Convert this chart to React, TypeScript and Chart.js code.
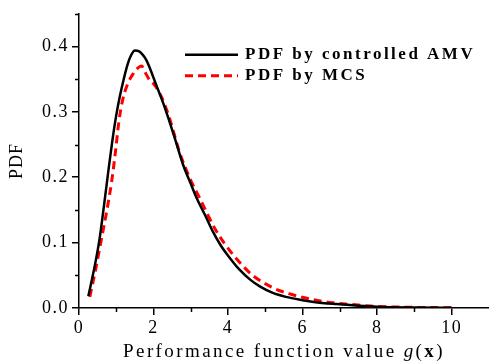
import React, { useEffect, useRef } from "react";
import { Chart, registerables } from "chart.js";

Chart.register(...registerables);

// PDF of the performance function obtained with the controlled AMV method
const amvX = [0.25, 0.4, 0.55, 0.7, 0.8, 0.9, 1.0, 1.1, 1.2, 1.3, 1.4, 1.5, 1.6, 1.7, 1.8, 1.9, 2.0, 2.1, 2.25, 2.4, 2.57, 2.8, 3.0, 3.15, 3.4, 3.6, 3.8, 4.0, 4.3, 4.6, 4.85, 5.2, 5.55, 6.0, 6.3, 6.9, 7.5, 8.0, 9.0, 10.0];
const amvY = [0.018, 0.058, 0.105, 0.17, 0.215, 0.258, 0.295, 0.325, 0.35, 0.372, 0.387, 0.394, 0.393, 0.388, 0.38, 0.367, 0.352, 0.337, 0.315, 0.29, 0.26, 0.218, 0.19, 0.169, 0.14, 0.116, 0.096, 0.08, 0.059, 0.043, 0.033, 0.023, 0.017, 0.012, 0.0093, 0.006, 0.0035, 0.002, 0.0008, 0.0003];

// PDF of the performance function obtained with Monte Carlo simulation
const mcsX = [0.29, 0.45, 0.6, 0.75, 0.88, 0.98, 1.07, 1.17, 1.3, 1.45, 1.6, 1.68, 1.78, 1.9, 2.0, 2.12, 2.25, 2.43, 2.7, 3.0, 3.24, 3.45, 3.64, 3.9, 4.26, 4.66, 5.2, 5.69, 6.27, 6.8, 7.29, 7.83, 8.5, 9.2, 10.0];
const mcsY = [0.017, 0.06, 0.105, 0.15, 0.195, 0.24, 0.285, 0.318, 0.342, 0.358, 0.368, 0.37, 0.36, 0.348, 0.343, 0.333, 0.318, 0.29, 0.238, 0.195, 0.168, 0.143, 0.122, 0.099, 0.073, 0.05, 0.031, 0.021, 0.013, 0.008, 0.0055, 0.003, 0.0015, 0.0008, 0.0005];

const legendLabels = ["PDF by controlled AMV", "PDF by MCS"];
const xMinorTicks = [1, 3, 5, 7, 9];
const yMinorTicks = [0.05, 0.15, 0.25, 0.35, 0.45];

const SERIF = "'Liberation Serif', 'Times New Roman', serif";
const SPACING = "1.5px";

const decorations = {
  id: "decorations",
  beforeLayout(chart: any) {
    chart.ctx.letterSpacing = SPACING;
  },
  beforeDraw(chart: any) {
    chart.ctx.letterSpacing = SPACING;
  },
  afterDraw(chart: any) {
    const ctx = chart.ctx;
    const area = chart.chartArea;
    const xs = chart.scales.x;
    const ys = chart.scales.y;
    ctx.save();

    // minor ticks
    ctx.strokeStyle = "#000";
    ctx.lineWidth = 1.5;
    ctx.beginPath();
    xMinorTicks.forEach((v) => {
      const px = Math.round(xs.getPixelForValue(v)) + 0.5;
      ctx.moveTo(px, area.bottom);
      ctx.lineTo(px, area.bottom + 4);
    });
    yMinorTicks.forEach((v) => {
      const py = Math.round(ys.getPixelForValue(v)) + 0.5;
      ctx.moveTo(area.left, py);
      ctx.lineTo(area.left - 4, py);
    });
    ctx.stroke();

    // legend
    ctx.letterSpacing = "2.5px";
    ctx.font = `bold 17px ${SERIF}`;
    ctx.fillStyle = "#000";
    ctx.textBaseline = "middle";
    ctx.textAlign = "left";
    const lx = area.left + 106;
    const ly = area.top + 41;
    chart.data.datasets.forEach((ds: any, i: number) => {
      const y = ly + i * 21;
      ctx.beginPath();
      ctx.strokeStyle = ds.borderColor;
      ctx.lineWidth = ds.borderWidth;
      ctx.setLineDash(ds.borderDash || []);
      ctx.moveTo(lx, y);
      ctx.lineTo(lx + 53, y);
      ctx.stroke();
      ctx.setLineDash([]);
      ctx.fillText(legendLabels[i], lx + 60, y);
    });

    // x axis title with italic g and bold x
    ctx.letterSpacing = "2.4px";
    const parts: [string, string][] = [
      ["Performance function value ", `19px ${SERIF}`],
      ["g", `italic 19px ${SERIF}`],
      ["(", `19px ${SERIF}`],
      ["x", `bold 19px ${SERIF}`],
      [")", `19px ${SERIF}`],
    ];
    let total = 0;
    parts.forEach(([t, f]) => {
      ctx.font = f;
      total += ctx.measureText(t).width;
    });
    let tx = (area.left + area.right) / 2 - total / 2;
    const ty = area.bottom + 44;
    parts.forEach(([t, f]) => {
      ctx.font = f;
      ctx.fillText(t, tx, ty);
      tx += ctx.measureText(t).width;
    });

    // y axis title
    ctx.letterSpacing = "1px";
    ctx.font = `18px ${SERIF}`;
    ctx.translate(17, (area.top + area.bottom) / 2);
    ctx.rotate(-Math.PI / 2);
    ctx.textAlign = "center";
    ctx.fillText("PDF", 0, 0);

    ctx.restore();
  },
};

export default function App() {
  const ref = useRef<HTMLCanvasElement>(null);

  useEffect(() => {
    if (!ref.current) return;
    const chart = new Chart(ref.current, {
      type: "line",
      data: {
        datasets: [
          {
            label: legendLabels[0],
            data: amvX.map((x, i) => ({ x, y: amvY[i] })),
            borderColor: "#000000",
            borderWidth: 2.5,
            pointRadius: 0,
            cubicInterpolationMode: "monotone",
          },
          {
            label: legendLabels[1],
            data: mcsX.map((x, i) => ({ x, y: mcsY[i] })),
            borderColor: "#ff0000",
            borderWidth: 3,
            borderDash: [8, 5],
            pointRadius: 0,
            cubicInterpolationMode: "monotone",
          },
        ],
      },
      options: {
        responsive: false,
        animation: false,
        layout: { padding: { top: 11, left: 0, right: 0, bottom: 0 } },
        plugins: { legend: { display: false }, tooltip: { enabled: false } },
        scales: {
          x: {
            type: "linear",
            min: 0,
            max: 11,
            afterFit: (s: any) => {
              s.height = 54;
            },
            border: { color: "#000", width: 1.5 },
            grid: { drawOnChartArea: false, color: "#000", lineWidth: 1.5, tickLength: 7 },
            ticks: {
              stepSize: 2,
              includeBounds: false,
              color: "#000",
              padding: 2,
              maxRotation: 0,
              font: { family: SERIF, size: 18 },
            },
          },
          y: {
            min: 0,
            max: 0.45,
            afterFit: (s: any) => {
              s.width = 79;
            },
            border: { color: "#000", width: 1.5 },
            grid: { drawOnChartArea: false, color: "#000", lineWidth: 1.5, tickLength: 7 },
            ticks: {
              stepSize: 0.1,
              includeBounds: false,
              color: "#000",
              padding: 3,
              font: { family: SERIF, size: 18 },
              callback: (v: any) => Number(v).toFixed(1),
            },
          },
        },
      },
      plugins: [decorations],
    });
    return () => chart.destroy();
  }, []);

  return (
    <div style={{ position: "absolute", left: 0, top: 0, width: 489, height: 362, background: "#fff" }}>
      <canvas ref={ref} width={489} height={362} />
    </div>
  );
}
